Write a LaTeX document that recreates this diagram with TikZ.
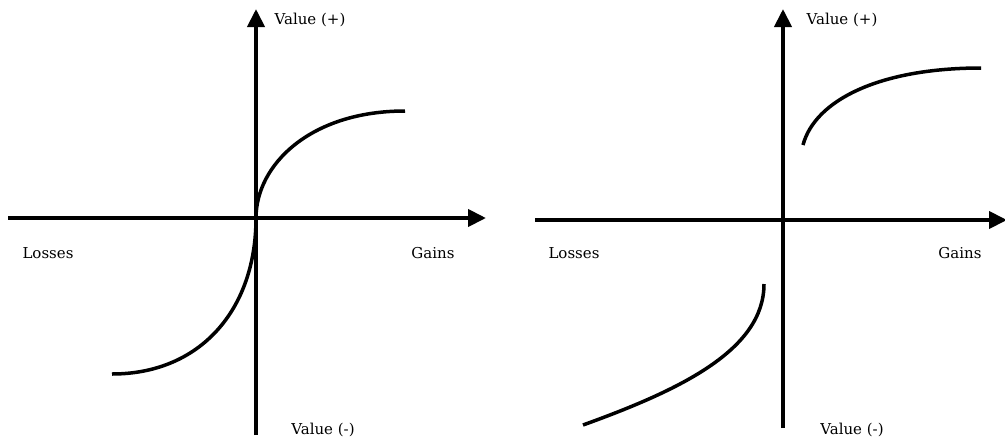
\documentclass[tikz,border=0pt]{standalone}
\usepackage{fontspec}
\setmainfont{DejaVu Serif}
\usetikzlibrary{arrows.meta}
\begin{document}
\begin{tikzpicture}[x=1pt,y=-1pt,
  axis/.style={line width=4pt,-{Triangle[length=18pt,width=17pt]}},
  curve/.style={line width=3.5pt},
  lab/.style={font=\fontsize{15}{17}\selectfont,inner sep=0pt}]
\fill[white] (0,0) rectangle (1005,440);
\useasboundingbox (0,0) rectangle (1005,440);
% left plot
\coordinate (LxS) at (8,218);
\coordinate (LxE) at (486,218);
\coordinate (LyS) at (256,435);
\coordinate (LyE) at (256,9);
\coordinate (LO) at (256,218);
\coordinate (LU) at (405,111);
\coordinate (LD) at (112,374);
\draw[axis] (LxS) -- (LxE);
\draw[axis] (LyS) -- (LyE);
\draw[curve] (LO) .. controls (256,165) and (310,111) .. (LU);
\draw[curve] (LO) .. controls (256,310) and (200,374) .. (LD);
\node[lab] (lvp) at (310,20) {Value (+)};
\node[lab] (lls) at (48,253) {Losses};
\node[lab] (lgn) at (433,253) {Gains};
\node[lab] (lvm) at (323,430) {Value (-)};
% right plot
\coordinate (RxS) at (535,220);
\coordinate (RxE) at (1007,220);
\coordinate (RyS) at (783,428);
\coordinate (RyE) at (783,9);
\coordinate (RU0) at (803,145);
\coordinate (RU1) at (981,68);
\coordinate (RD0) at (583,425);
\coordinate (RD1) at (764,284);
\draw[axis] (RxS) -- (RxE);
\draw[axis] (RyS) -- (RyE);
\draw[curve] (RU0) .. controls (815,100) and (880,68) .. (RU1);
\draw[curve] (RD0) .. controls (680,390) and (764,350) .. (RD1);
\node[lab] (rvp) at (842,20) {Value (+)};
\node[lab] (rls) at (574,253) {Losses};
\node[lab] (rgn) at (960,253) {Gains};
\node[lab] (rvm) at (852,430) {Value (-)};
\end{tikzpicture}
\end{document}
